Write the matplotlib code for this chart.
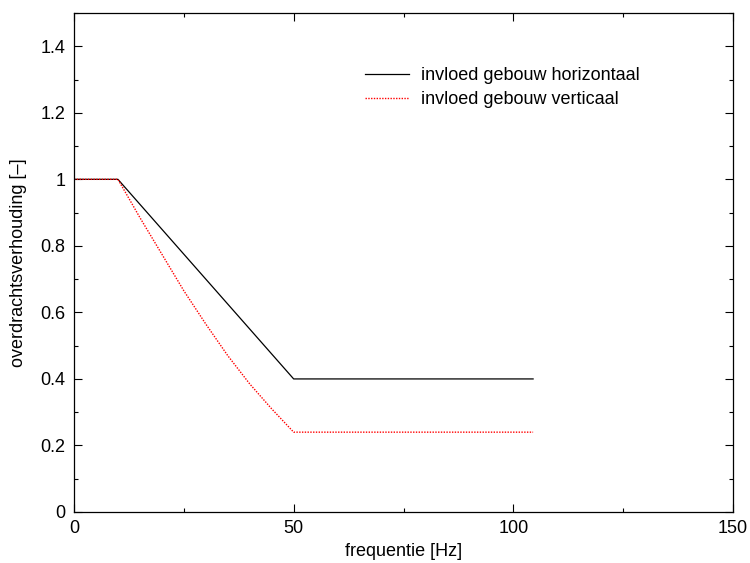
import matplotlib
matplotlib.use("Agg")
import matplotlib.pyplot as plt
from matplotlib.ticker import MultipleLocator, FuncFormatter

plt.rcParams['font.family'] = ['Liberation Sans', 'DejaVu Sans']

freq_h = [0, 10, 50, 104.5]
val_h = [1.0, 1.0, 0.4, 0.4]

freq_v = [0, 10, 15, 20, 25, 30, 35, 40, 45, 50, 104.5]
val_v = [1.0, 1.0, 0.885, 0.775, 0.665, 0.565, 0.47, 0.385, 0.31, 0.24, 0.24]

label_h = "invloed gebouw horizontaal"
label_v = "invloed gebouw verticaal"

fig = plt.figure(figsize=(7.5, 5.63), dpi=100)
ax = fig.add_axes([74/750, 51/563, 659/750, 499/563])

ax.plot(freq_h, val_h, color='black', lw=0.9, label=label_h)
ax.plot(freq_v, val_v, color='red', lw=1.0, linestyle=(0, (1, 1)), label=label_v)

ax.set_xlim(0, 150)
ax.set_ylim(0, 1.5)
ax.xaxis.set_major_locator(MultipleLocator(50))
ax.xaxis.set_minor_locator(MultipleLocator(25))
ax.yaxis.set_major_locator(MultipleLocator(0.2))
ax.yaxis.set_minor_locator(MultipleLocator(0.1))
ax.yaxis.set_major_formatter(FuncFormatter(lambda v, p: ('%g' % round(v, 2)) if v < 1.45 else ''))
ax.tick_params(which='both', direction='in', top=True, right=True, labelsize=13, width=0.8)
ax.tick_params(which='major', length=6, pad=6)
ax.tick_params(which='minor', length=3)
for s in ax.spines.values():
    s.set_linewidth(0.9)

ax.set_xlabel("frequentie [Hz]", fontsize=13, labelpad=4)
ax.set_ylabel("overdrachtsverhouding [–]", fontsize=13, labelpad=10)

ax.legend(loc='upper left', bbox_to_anchor=(0.431, 0.906), frameon=False, fontsize=13,
          handlelength=2.4, handletextpad=0.7, labelspacing=0.4, borderaxespad=0)

fig.savefig("out.png", dpi=100)
